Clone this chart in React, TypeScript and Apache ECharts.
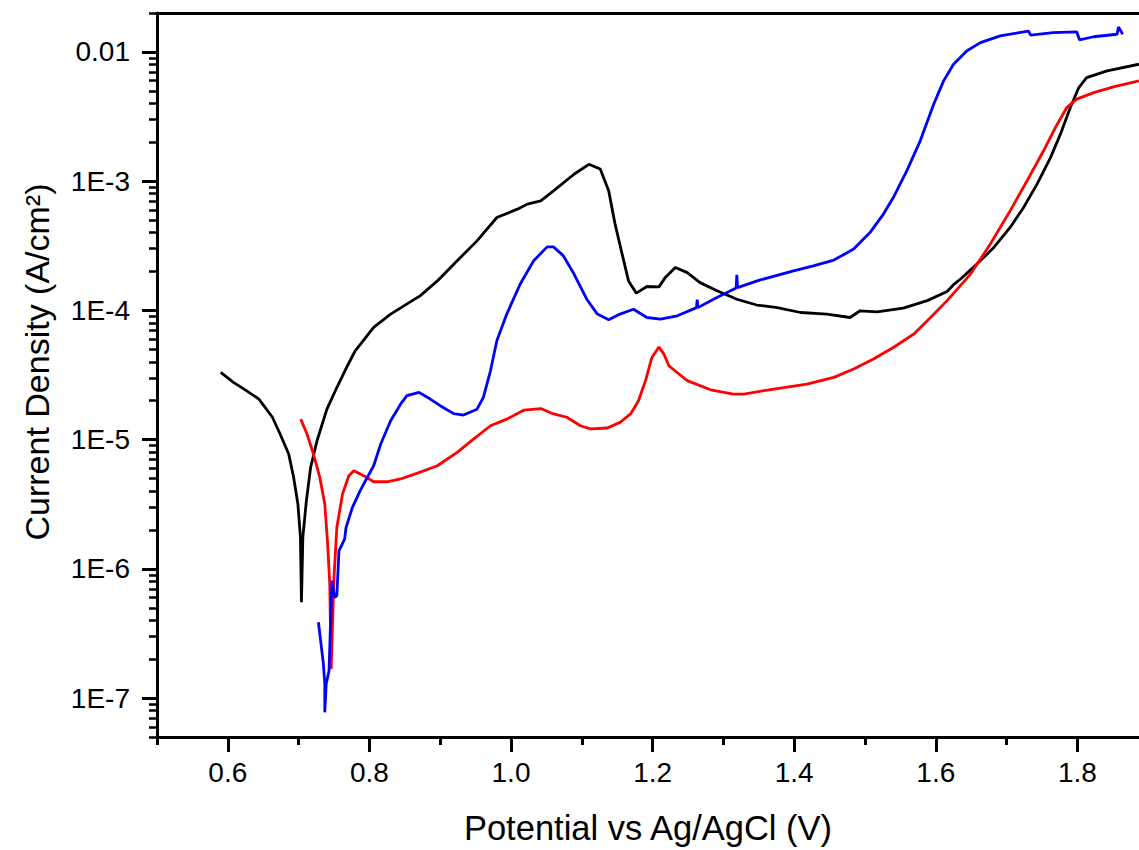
import React, { useEffect, useRef } from 'react';
import * as echarts from 'echarts';

// Potential (V vs Ag/AgCl), current density (A/cm²)
const blackCurve: [number, number][] = [
  [0.590, 3.31e-5], [0.608, 2.77e-5], [0.623, 2.46e-5], [0.644, 2.06e-5], [0.663, 1.49e-5],
  [0.674, 1.10e-5], [0.686, 7.74e-6], [0.693, 5.10e-6], [0.699, 3.18e-6], [0.7026, 1.75e-6],
  [0.704, 5.51e-7], [0.706, 1.75e-6], [0.711, 3.37e-6], [0.717, 6.10e-6], [0.726, 9.8e-6],
  [0.740, 1.72e-5], [0.754, 2.53e-5], [0.769, 3.73e-5], [0.780, 4.87e-5], [0.806, 7.38e-5],
  [0.830, 9.36e-5], [0.872, 1.30e-4], [0.896, 1.69e-4], [0.924, 2.42e-4], [0.952, 3.45e-4],
  [0.980, 5.23e-4], [1.009, 6.07e-4], [1.023, 6.64e-4], [1.042, 7.04e-4], [1.060, 8.41e-4],
  [1.089, 1.13e-3], [1.110, 1.35e-3], [1.126, 1.24e-3], [1.138, 8.41e-4], [1.147, 4.65e-4],
  [1.157, 2.72e-4], [1.166, 1.69e-4], [1.177, 1.36e-4], [1.192, 1.53e-4], [1.209, 1.52e-4],
  [1.218, 1.80e-4], [1.232, 2.15e-4], [1.249, 1.96e-4], [1.267, 1.64e-4], [1.291, 1.42e-4],
  [1.319, 1.22e-4], [1.347, 1.10e-4], [1.376, 1.05e-4], [1.409, 9.63e-5], [1.446, 9.36e-5],
  [1.479, 8.81e-5], [1.493, 9.93e-5], [1.517, 9.75e-5], [1.554, 1.04e-4], [1.588, 1.19e-4],
  [1.616, 1.40e-4], [1.625, 1.58e-4], [1.635, 1.75e-4], [1.658, 2.28e-4], [1.682, 3.07e-4],
  [1.705, 4.38e-4], [1.724, 6.25e-4], [1.743, 9.48e-4], [1.762, 1.52e-3], [1.776, 2.31e-3],
  [1.790, 3.71e-3], [1.802, 5.30e-3], [1.813, 6.32e-3], [1.842, 7.13e-3], [1.887, 8.03e-3],
];

const redCurve: [number, number][] = [
  [0.703, 1.44e-5], [0.712, 1.10e-5], [0.721, 7.74e-6], [0.730, 5.10e-6], [0.737, 3.18e-6],
  [0.741, 1.56e-6], [0.744, 7.64e-7], [0.746, 1.68e-7], [0.750, 8.60e-7], [0.754, 2.09e-6],
  [0.762, 3.79e-6], [0.771, 5.26e-6], [0.778, 5.75e-6], [0.792, 5.26e-6], [0.806, 4.72e-6],
  [0.825, 4.72e-6], [0.844, 4.96e-6], [0.867, 5.48e-6], [0.896, 6.28e-6], [0.924, 7.96e-6],
  [0.947, 1.01e-5], [0.971, 1.28e-5], [0.994, 1.44e-5], [1.018, 1.69e-5], [1.042, 1.74e-5],
  [1.060, 1.58e-5], [1.079, 1.49e-5], [1.098, 1.28e-5], [1.112, 1.21e-5], [1.136, 1.23e-5],
  [1.154, 1.36e-5], [1.169, 1.58e-5], [1.180, 2.00e-5], [1.190, 2.86e-5], [1.199, 4.32e-5],
  [1.209, 5.20e-5], [1.216, 4.59e-5], [1.223, 3.73e-5], [1.235, 3.29e-5], [1.249, 2.86e-5],
  [1.282, 2.43e-5], [1.314, 2.25e-5], [1.329, 2.25e-5], [1.362, 2.42e-5], [1.418, 2.69e-5],
  [1.456, 3.03e-5], [1.484, 3.52e-5], [1.512, 4.20e-5], [1.540, 5.16e-5], [1.569, 6.56e-5],
  [1.588, 8.31e-5], [1.616, 1.19e-4], [1.649, 1.91e-4], [1.677, 3.26e-4], [1.705, 5.89e-4],
  [1.729, 1.01e-3], [1.752, 1.71e-3], [1.769, 2.60e-3], [1.785, 3.71e-3], [1.799, 4.31e-3],
  [1.823, 4.84e-3], [1.851, 5.36e-3], [1.887, 5.97e-3],
];

const blueCurve: [number, number][] = [
  [0.728, 3.86e-7], [0.735, 1.84e-7], [0.737, 1.29e-7], [0.737, 7.76e-8], [0.739, 1.29e-7],
  [0.743, 1.63e-7], [0.747, 8.11e-7], [0.751, 6.02e-7], [0.754, 6.21e-7], [0.757, 1.38e-6],
  [0.765, 1.70e-6], [0.767, 2.09e-6], [0.776, 2.99e-6], [0.787, 4.03e-6], [0.797, 5.10e-6],
  [0.806, 6.28e-6], [0.816, 9.25e-6], [0.830, 1.40e-5], [0.844, 1.88e-5], [0.853, 2.19e-5],
  [0.870, 2.32e-5], [0.886, 2.06e-5], [0.900, 1.83e-5], [0.919, 1.59e-5], [0.933, 1.55e-5],
  [0.952, 1.72e-5], [0.961, 2.12e-5], [0.971, 3.41e-5], [0.980, 5.82e-5], [0.994, 9.36e-5],
  [1.013, 1.60e-4], [1.032, 2.42e-4], [1.051, 3.10e-4], [1.060, 3.10e-4], [1.074, 2.64e-4],
  [1.089, 1.91e-4], [1.107, 1.22e-4], [1.122, 9.36e-5], [1.138, 8.46e-5], [1.154, 9.36e-5],
  [1.173, 1.02e-4], [1.192, 8.81e-5], [1.211, 8.57e-5], [1.235, 9.08e-5], [1.262, 1.05e-4],
  [1.263, 1.21e-4], [1.264, 1.05e-4], [1.286, 1.22e-4], [1.318, 1.49e-4], [1.319, 1.88e-4],
  [1.320, 1.50e-4], [1.352, 1.72e-4], [1.399, 2.02e-4], [1.427, 2.21e-4], [1.456, 2.45e-4],
  [1.484, 2.98e-4], [1.507, 4.00e-4], [1.526, 5.56e-4], [1.540, 7.47e-4], [1.559, 1.20e-3],
  [1.578, 2.05e-3], [1.597, 3.94e-3], [1.611, 5.97e-3], [1.625, 8.03e-3], [1.644, 1.02e-2],
  [1.663, 1.18e-2], [1.691, 1.33e-2], [1.731, 1.45e-2], [1.734, 1.35e-2], [1.766, 1.41e-2],
  [1.799, 1.43e-2], [1.803, 1.24e-2], [1.823, 1.31e-2], [1.856, 1.37e-2], [1.858, 1.56e-2],
  [1.864, 1.37e-2],
];

const xMajorTicks = [0.6, 0.8, 1.0, 1.2, 1.4, 1.6, 1.8];
const xMinorTicks = [0.5, 0.7, 0.9, 1.1, 1.3, 1.5, 1.7];
const yMajorTicks = [1e-7, 1e-6, 1e-5, 1e-4, 1e-3, 1e-2];
const yMinorTicks = [
  5e-8, 6e-8, 7e-8, 8e-8, 9e-8,
  2e-7, 3e-7, 4e-7, 5e-7, 6e-7, 7e-7, 8e-7, 9e-7,
  2e-6, 3e-6, 4e-6, 5e-6, 6e-6, 7e-6, 8e-6, 9e-6,
  2e-5, 3e-5, 4e-5, 5e-5, 6e-5, 7e-5, 8e-5, 9e-5,
  2e-4, 3e-4, 4e-4, 5e-4, 6e-4, 7e-4, 8e-4, 9e-4,
  2e-3, 3e-3, 4e-3, 5e-3, 6e-3, 7e-3, 8e-3, 9e-3,
  2e-2,
];

const X_MIN = 0.5;
const X_MAX = 1.887;
const Y_MIN = 5e-8;
const Y_MAX = 0.02;
const FONT = 'Liberation Sans, Arial, sans-serif';

export default function App() {
  const ref = useRef<HTMLDivElement>(null);

  useEffect(() => {
    if (!ref.current) return;
    const chart = echarts.init(ref.current, undefined, { renderer: 'svg' });
    const axisColor = '#000';
    const gridRect = { left: 157, top: 13, right: 0, bottom: 113, outerBoundsMode: 'none' } as any;

    const option: any = {
      animation: false,
      backgroundColor: '#fff',
      grid: [{ ...gridRect }, { ...gridRect }],
      xAxis: [
        {
          gridIndex: 0,
          type: 'value',
          position: 'bottom',
          min: X_MIN,
          max: X_MAX,
          axisLine: { show: true, onZero: false, lineStyle: { color: axisColor, width: 3 } },
          axisTick: { show: true, customValues: xMajorTicks, length: 15, lineStyle: { color: axisColor, width: 3 } },
          axisLabel: {
            customValues: xMajorTicks,
            formatter: (v: number) => v.toFixed(1),
            fontSize: 28,
            color: '#000',
            fontFamily: FONT,
            margin: 21,
          },
          splitLine: { show: false },
          name: 'Potential vs Ag/AgCl (V)',
          nameLocation: 'middle',
          nameGap: 73,
          nameTextStyle: { fontSize: 34.5, color: '#000', fontFamily: FONT },
        },
        {
          gridIndex: 0,
          type: 'value',
          position: 'top',
          min: X_MIN,
          max: X_MAX,
          axisLine: { show: true, onZero: false, lineStyle: { color: axisColor, width: 3 } },
          axisTick: { show: false },
          axisLabel: { show: false },
          splitLine: { show: false },
        },
        {
          gridIndex: 1,
          type: 'value',
          position: 'bottom',
          min: X_MIN,
          max: X_MAX,
          axisLine: { show: false, onZero: false },
          axisTick: { show: true, customValues: xMinorTicks, length: 8, lineStyle: { color: axisColor, width: 3 } },
          axisLabel: { show: false },
          splitLine: { show: false },
        },
      ],
      yAxis: [
        {
          gridIndex: 0,
          type: 'log',
          logBase: 10,
          position: 'left',
          min: Y_MIN,
          max: Y_MAX,
          axisLine: { show: true, onZero: false, lineStyle: { color: axisColor, width: 3 } },
          axisTick: { show: true, customValues: yMajorTicks, length: 15, lineStyle: { color: axisColor, width: 3 } },
          axisLabel: {
            customValues: yMajorTicks,
            formatter: (v: number) => (v >= 0.005 ? '0.01' : '1E' + Math.round(Math.log10(v))),
            fontSize: 28,
            color: '#000',
            fontFamily: FONT,
            margin: 27,
          },
          splitLine: { show: false },
          minorSplitLine: { show: false },
          name: 'Current Density (A/cm²)',
          nameLocation: 'middle',
          nameGap: 103,
          nameTextStyle: { fontSize: 34, color: '#000', fontFamily: FONT, padding: [0, 0, 0, 26] },
        },
        {
          gridIndex: 1,
          type: 'log',
          logBase: 10,
          position: 'left',
          min: Y_MIN,
          max: Y_MAX,
          axisLine: { show: false, onZero: false },
          axisTick: { show: true, customValues: yMinorTicks, length: 8, lineStyle: { color: axisColor, width: 2.5 } },
          axisLabel: { show: false },
          splitLine: { show: false },
        },
      ],
      series: [
        {
          type: 'line',
          name: 'black',
          xAxisIndex: 0,
          yAxisIndex: 0,
          data: blackCurve,
          showSymbol: false,
          symbol: 'none',
          lineStyle: { color: '#000000', width: 2.8 },
          itemStyle: { color: '#000000' },
        },
        {
          type: 'line',
          name: 'red',
          xAxisIndex: 0,
          yAxisIndex: 0,
          data: redCurve,
          showSymbol: false,
          symbol: 'none',
          lineStyle: { color: '#ff0000', width: 2.8 },
          itemStyle: { color: '#ff0000' },
        },
        {
          type: 'line',
          name: 'blue',
          xAxisIndex: 0,
          yAxisIndex: 0,
          data: blueCurve,
          showSymbol: false,
          symbol: 'none',
          lineStyle: { color: '#0000ff', width: 2.8 },
          itemStyle: { color: '#0000ff' },
        },
      ],
    };

    chart.setOption(option);
    return () => chart.dispose();
  }, []);

  return (
    <div
      ref={ref}
      style={{ position: 'fixed', left: 0, top: 0, width: 1139, height: 850, background: '#fff' }}
    />
  );
}
